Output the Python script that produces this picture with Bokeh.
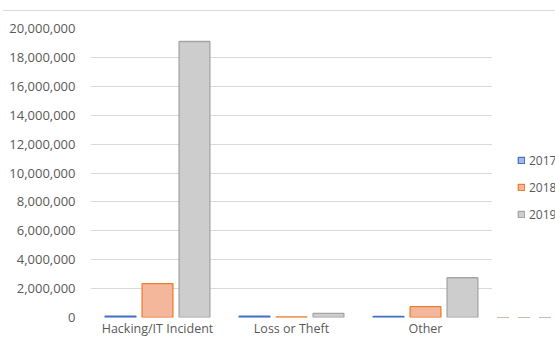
from bokeh.plotting import figure
from bokeh.models import (ColumnDataSource, Range1d, FactorRange, NumeralTickFormatter,
                          SingleIntervalTicker, Legend, LegendItem, Div, BoxAnnotation)
from bokeh.transform import dodge
from bokeh.layouts import column, row
from bokeh.embed import file_html
from bokeh.resources import INLINE

categories = ["Hacking/IT Incident", "Loss or Theft", "Other"]
years = ["2017", "2018", "2019"]
v2017 = [100000, 90000, 80000]
v2018 = [2350000, 50000, 750000]
v2019 = [19100000, 280000, 2750000]

fills = ["#a4b9e3", "#f5b79c", "#cdcdcd"]
lines = ["#4472c4", "#ed7d31", "#a5a5a5"]

src = ColumnDataSource(dict(cat=categories, y2017=v2017, y2018=v2018, y2019=v2019))

FONT = "Open Sans"
TXT = "#595959"

p = figure(width=492, height=328, x_range=FactorRange(*categories),
           y_range=Range1d(0, 20000000), output_backend="svg", toolbar_location=None,
           min_border_left=90, min_border_right=0, min_border_top=17, min_border_bottom=22)
p.outline_line_color = None
p.background_fill_color = "white"
p.border_fill_color = "white"

offsets = [-0.276, 0.0, 0.276]
for yr, off, fc, lc in zip(years, offsets, fills, lines):
    p.vbar(x=dodge("cat", off, range=p.x_range), top="y" + yr, width=0.23,
           source=src, fill_color=fc, line_color=lc, line_width=1.3)

p.yaxis.ticker = SingleIntervalTicker(interval=2000000)
p.yaxis.formatter = NumeralTickFormatter(format="0,0")
for ax in (p.xaxis[0], p.yaxis[0]):
    ax.axis_line_color = None
    ax.major_tick_line_color = None
    ax.minor_tick_line_color = None
    ax.major_tick_out = 0
    ax.major_tick_in = 0
    ax.minor_tick_out = 0
    ax.minor_tick_in = 0
    ax.major_label_text_font = FONT
    ax.major_label_text_font_size = "13px"
    ax.major_label_text_color = TXT
p.yaxis.major_label_standoff = 15
p.xaxis.major_label_text_font_size = "12.5px"
p.xaxis.major_label_standoff = 2
p.xgrid.grid_line_color = None
p.ygrid.grid_line_color = "#d9d9d9"
p.ygrid.grid_line_width = 1

# narrow side figure that only hosts the legend; its bars are masked by a white box
pl = figure(width=63, height=328, x_range=FactorRange(*categories),
            y_range=Range1d(0, 20000000),
            output_backend="svg", toolbar_location=None,
            min_border_left=0, min_border_right=0, min_border_top=0, min_border_bottom=0)
pl.axis.visible = False
pl.grid.visible = False
pl.outline_line_color = None
pl.border_fill_color = "white"
items = []
for yr, fc, lc in zip(years, fills, lines):
    r = pl.vbar(x="cat", top="y" + yr, width=0.5, source=src,
                fill_color=fc, line_color=lc, line_width=1.3)
    items.append(LegendItem(label=yr, renderers=[r]))

pl.add_layout(BoxAnnotation(fill_color="white", fill_alpha=1.0, line_color=None))

legend = Legend(items=items, location=(25, 93), orientation="vertical",
                glyph_width=8, glyph_height=8, label_standoff=4, spacing=7, label_height=20,
                label_text_font=FONT, label_text_font_size="12px", label_text_color=TXT,
                border_line_color=None, background_fill_alpha=0, padding=0, margin=0)
pl.add_layout(legend, "center")

top = Div(width=552, height=11, margin=(0, 0, 0, 3),
          styles={"border-bottom": "1px solid #d9d9d9", "box-sizing": "border-box"})
layout = column(top, row(p, pl, spacing=0), spacing=0)

open("out.html", "w").write(file_html(layout, INLINE))
